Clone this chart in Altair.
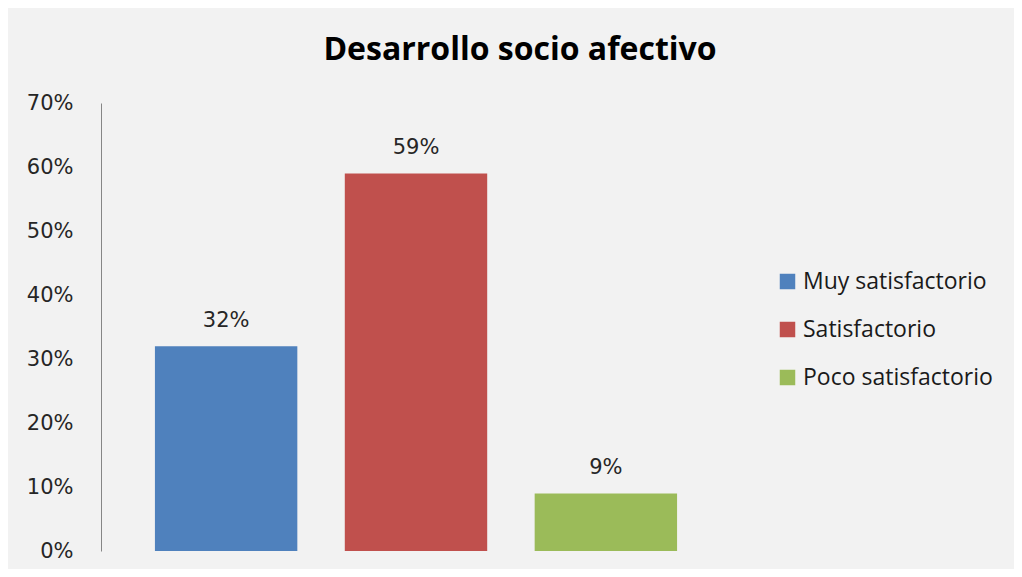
import altair as alt
import pandas as pd

categories = ["Muy satisfactorio", "Satisfactorio", "Poco satisfactorio"]
values = [0.32, 0.59, 0.09]
colors = ["#4f81bd", "#c0504d", "#9bbb59"]
y_ticks = [0, 0.1, 0.2, 0.3, 0.4, 0.5, 0.6, 0.7]

df = pd.DataFrame({"categoria": categories, "valor": values})

x_scale = alt.Scale(paddingInner=0.25, paddingOuter=0.284)
y_scale = alt.Scale(domain=[0, 0.7], nice=False, zero=True)

bars = alt.Chart(df).mark_bar(stroke=None).encode(
    x=alt.X("categoria:N", sort=categories, axis=None, scale=x_scale),
    y=alt.Y("valor:Q", scale=y_scale,
            axis=alt.Axis(values=y_ticks, format=".0%", title=None, grid=False,
                          ticks=False, tickSize=0, labelPadding=28,
                          labelFont="DejaVu Sans", labelFontSize=21,
                          labelColor="#262626", domainColor="#868686",
                          domainWidth=1)),
    color=alt.Color("categoria:N", sort=categories,
                    scale=alt.Scale(domain=categories, range=colors),
                    legend=alt.Legend(title=None, orient="none", legendX=675, legendY=167,
                                      symbolType="square", symbolSize=240,
                                      symbolStrokeWidth=0, labelFont="Open Sans",
                                      labelFontSize=23, labelColor="#1a1a1a",
                                      labelOffset=4, rowPadding=24, padding=0,
                                      labelLimit=400)),
)

labels = alt.Chart(df).mark_text(
    baseline="alphabetic", dy=-19, font="DejaVu Sans", fontSize=21, color="#262626"
).encode(
    x=alt.X("categoria:N", sort=categories, axis=None, scale=x_scale),
    y=alt.Y("valor:Q", scale=y_scale),
    text=alt.Text("valor:Q", format=".0%"),
)

chart = alt.layer(bars, labels).properties(
    width=630,
    height=448,
    background="#f2f2f2",
    padding={"left": 93, "top": 95, "right": 283, "bottom": 18},
    autosize=alt.AutoSizeParams(type="none"),
    title=alt.TitleParams(
        text="Desarrollo socio afectivo",
        anchor="middle", dx=104, offset=0,
        font="Open Sans", fontSize=32, fontWeight="bold", color="#000000",
        baseline="alphabetic",
    ),
).configure_view(stroke=None)

chart.save("out.html", embed_options={"renderer": "svg", "actions": False})
